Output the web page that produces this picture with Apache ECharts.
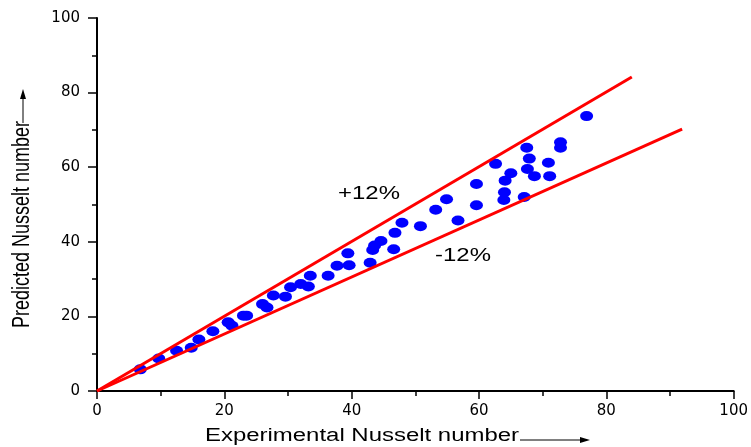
<!DOCTYPE html>
<html>
<head>
<meta charset="utf-8">
<script src="https://cdn.jsdelivr.net/npm/echarts@6/dist/echarts.min.js"></script>
<style>html,body{margin:0;padding:0;background:#fff}#c{width:751px;height:447px}</style>
</head>
<body>
<div id="c"></div>
<script>
// Experimental vs predicted Nusselt number
const experimental = [6.8, 9.7, 12.5, 14.8, 16.0, 18.2, 20.6, 21.2, 23.0, 23.5,
  26.0, 26.7, 27.7, 29.6, 30.4, 32.0, 33.2, 33.5, 36.3, 37.7,
  39.6, 39.4, 42.9, 43.3, 43.6, 44.6, 46.6, 46.8, 47.9, 50.8,
  53.2, 54.9, 56.7, 59.6, 59.6, 62.6, 63.9, 64.0, 64.1, 65.0,
  67.1, 67.5, 67.9, 67.6, 68.7, 70.9, 71.1, 72.8, 72.8, 76.9];
const predicted = [5.8, 8.7, 10.8, 11.6, 13.8, 16.0, 18.4, 17.5, 20.2, 20.2,
  23.3, 22.4, 25.6, 25.3, 27.8, 28.7, 28.0, 30.9, 30.9, 33.6,
  33.7, 36.9, 34.4, 37.8, 39.0, 40.2, 38.0, 42.4, 45.1, 44.2,
  48.6, 51.4, 45.7, 55.5, 49.8, 60.9, 51.2, 53.3, 56.4, 58.4,
  52.0, 65.2, 62.3, 59.5, 57.6, 61.2, 57.6, 66.7, 65.2, 73.7];
const upperBand = [[0, 0], [84, 84.2]];   // labelled +12%
const lowerBand = [[0, 0], [91.9, 70.2]]; // labelled -12%
const axisTicks = [0, 20, 40, 60, 80, 100];

const points = experimental.map((x, i) => [x, predicted[i]]);
const chart = echarts.init(document.getElementById('c'), null, {renderer: 'canvas'});
const axisCommon = {
  type: 'value', min: axisTicks[0], max: axisTicks[axisTicks.length - 1], interval: 20,
  splitLine: {show: false},
  axisLine: {show: true, onZero: false, lineStyle: {color: '#000', width: 2}},
  minorTick: {show: true, splitNumber: 2, length: 5, lineStyle: {color: '#000', width: 1.5}},
  axisLabel: {color: '#000', fontFamily: 'DejaVu Sans', fontSize: 15}
};
chart.setOption({
  animation: false,
  backgroundColor: '#fff',
  grid: {left: 97, right: 14, top: 18, bottom: 56, containLabel: false},
  xAxis: Object.assign({}, axisCommon, {
    axisTick: {show: true, length: 8, lineStyle: {color: '#000', width: 1.5}},
    axisLabel: Object.assign({}, axisCommon.axisLabel, {margin: 13})
  }),
  yAxis: Object.assign({}, axisCommon, {
    axisTick: {show: true, length: 9, lineStyle: {color: '#000', width: 1.5}},
    axisLabel: Object.assign({}, axisCommon.axisLabel, {margin: 17})
  }),
  series: [
    {type: 'line', data: upperBand, symbol: 'none', lineStyle: {color: '#ff0000', width: 3}},
    {type: 'line', data: lowerBand, symbol: 'none', lineStyle: {color: '#ff0000', width: 3}},
    {type: 'scatter', data: points, symbol: 'circle', symbolSize: [13, 10],
     itemStyle: {color: '#0000ff', opacity: 1}}
  ],
  graphic: [
    {type: 'text', x: 369, y: 194, scaleX: 1.33,
     style: {text: '+12%', font: '18px "Liberation Sans"', fill: '#000', textAlign: 'center', textVerticalAlign: 'middle'}},
    {type: 'text', x: 463, y: 256, scaleX: 1.33,
     style: {text: '-12%', font: '18px "Liberation Sans"', fill: '#000', textAlign: 'center', textVerticalAlign: 'middle'}},
    {type: 'text', x: 205, y: 436, scaleX: 1.33,
     style: {text: 'Experimental Nusselt number', font: '18px "Liberation Sans"', fill: '#000', textAlign: 'left', textVerticalAlign: 'middle'}},
    {type: 'line', shape: {x1: 520, y1: 440, x2: 583, y2: 440}, style: {stroke: '#000', lineWidth: 1}},
    {type: 'polygon', shape: {points: [[580, 437], [590, 440], [580, 443]]}, style: {fill: '#000'}},
    {type: 'text', x: 22, y: 328, rotation: Math.PI / 2, scaleY: 1.35,
     style: {text: 'Predicted Nusselt number', font: '18px "Liberation Sans"', fill: '#000', textAlign: 'left', textVerticalAlign: 'middle'}},
    {type: 'line', shape: {x1: 23, y1: 123, x2: 23, y2: 97}, style: {stroke: '#000', lineWidth: 1}},
    {type: 'polygon', shape: {points: [[20, 99], [23, 89], [26, 99]]}, style: {fill: '#000'}}
  ]
});
</script>
</body>
</html>
